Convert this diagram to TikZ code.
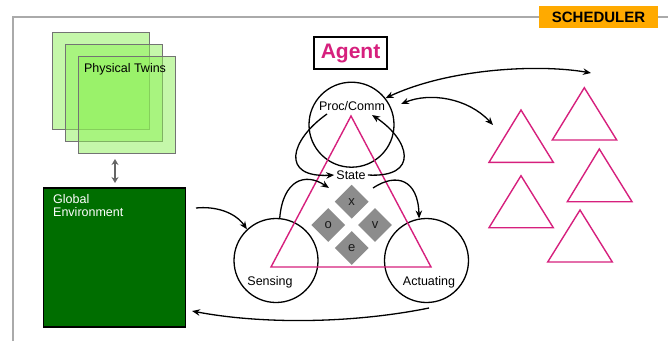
\documentclass[tikz,border=0pt]{standalone}
\usepackage{fontspec}
\setmainfont{Liberation Sans}
\usetikzlibrary{shapes.geometric,arrows.meta}

\definecolor{agentpink}{RGB}{214,32,125}
\definecolor{envgreen}{RGB}{0,110,0}
\definecolor{twingreen}{RGB}{140,240,85}
\definecolor{schedorange}{RGB}{255,170,0}
\definecolor{framegray}{RGB}{170,170,170}
\definecolor{gemgray}{RGB}{140,140,140}

\tikzset{
  lbl/.style={font=\fontsize{12.5}{14}\selectfont, inner sep=1pt},
  ring/.style={circle, draw=black, line width=1.3pt, minimum size=85pt, inner sep=0pt},
  gem/.style={diamond, fill=gemgray, minimum width=34pt, minimum height=34pt, inner sep=0pt,
              font=\fontsize{13}{14}\selectfont, text=black!90},
  twin/.style={draw=black!55, line width=1.2pt, fill=twingreen, fill opacity=0.5,
               minimum width=97pt, minimum height=97pt, inner sep=0pt},
  flow/.style={-{Stealth[length=8pt,width=6.5pt]}, line width=1.3pt, black},
  both/.style={{Stealth[length=8pt,width=6.5pt]}-{Stealth[length=8pt,width=6.5pt]}, line width=1.3pt, black},
  tri/.style={draw=agentpink, line width=1.4pt, line join=miter},
}

\begin{document}
\begin{tikzpicture}[x=1pt,y=-1pt]
\useasboundingbox (0,0) rectangle (668,341);

% outer frame and scheduler tag
\draw[framegray, line width=1.5pt] (13,341) -- (13,17) -- (668,17);
\node[fill=schedorange, minimum width=119pt, minimum height=22pt, inner sep=0pt,
      font=\fontsize{15}{16}\selectfont\bfseries] (sched) at (598.5,17) {SCHEDULER};

% physical twins
\node[twin] (twinA) at (101.3,81) {};
\node[twin] (twinB) at (114.2,93.3) {};
\node[twin] (twinC) at (127,105) {};
\node[lbl] (twintext) at (125,69.5) {Physical Twins};

% global environment
\node[draw=black, line width=1.3pt, fill=envgreen, minimum width=142pt, minimum height=139pt,
      inner sep=0pt] (env) at (114.5,257.5) {};
\node[lbl, text=white, align=left, anchor=north west,
      font=\fontsize{12.5}{13.5}\selectfont] (envtext) at (52,193) {Global\\Environment};

% link between twins and environment
\coordinate (twinlink) at (115,159);
\coordinate (envlink) at (115,183);
\draw[{Stealth[length=6pt,width=7pt]}-{Stealth[length=6pt,width=7pt]}, black!60, line width=2pt]
  (twinlink) -- (envlink);

% agent title
\node[draw=black, line width=1.3pt, minimum width=73pt, minimum height=32pt, inner sep=0pt,
      text=agentpink, font=\fontsize{21}{24}\selectfont\bfseries] (agent) at (350.5,53) {Agent};

% agent internals
\node[ring] (proc) at (351.5,124.7) {};
\node[ring, minimum size=84pt] (sens) at (276,260.5) {};
\node[ring, minimum size=84pt] (act) at (426.5,260.5) {};
\draw[tri] (351,116) -- (271,267) -- (431,267) -- cycle;

\node[lbl] (proctext) at (352,106) {Proc/Comm};
\node[lbl] (sensetext) at (270,282) {Sensing};
\node[lbl] (acttext) at (429,282) {Actuating};
\node[lbl, inner sep=2pt] (state) at (351,175) {State};

\node[gem] (gx) at (351.7,201.7) {x};
\node[gem] (go) at (328.3,225) {o};
\node[gem] (gv) at (375,225) {v};
\node[gem] (ge) at (351.7,248) {e};

% loose connector ends
\coordinate (procout) at (327,114);
\coordinate (procin) at (372,115);
\coordinate (stateup) at (329,188);
\coordinate (statedown) at (373,188);
\coordinate (envout) at (196,208);
\coordinate (actout) at (429,308);
\coordinate (envin) at (192,311);
\coordinate (swarmtop) at (591,73);
\coordinate (procside) at (401,104);
\coordinate (swarmleft) at (493,125);

% internal loops
\draw[flow] (procout) .. controls (290,140) and (280,178) .. (state.west);
\draw[flow] (state.east) .. controls (420,178) and (410,140) .. (procin);
\draw[flow] (sens.85) .. controls (283,180) and (305,172) .. (stateup);
\draw[flow] (statedown) .. controls (397,172) and (418,180) .. (act.100);

% environment loop
\draw[flow] (envout) .. controls (215,206) and (235,212) .. (sens.133);
\draw[flow] (actout) .. controls (350,324) and (260,324) .. (envin);

% communication with other agents
\draw[both] (proc.38) .. controls (450,68) and (540,64) .. (swarmtop);
\draw[both] (procside) .. controls (430,92) and (468,98) .. (swarmleft);

% other agents
\draw[tri] (521,110) -- (489,162.3) -- (553.3,162.3) -- cycle;
\draw[tri] (584.3,87.7) -- (552.3,140) -- (616.7,140) -- cycle;
\draw[tri] (599.3,149) -- (567.3,201.7) -- (632,201.7) -- cycle;
\draw[tri] (521,175.7) -- (489,227.7) -- (553.3,227.7) -- cycle;
\draw[tri] (580,210) -- (547.7,262) -- (612.3,262) -- cycle;
\end{tikzpicture}
\end{document}
